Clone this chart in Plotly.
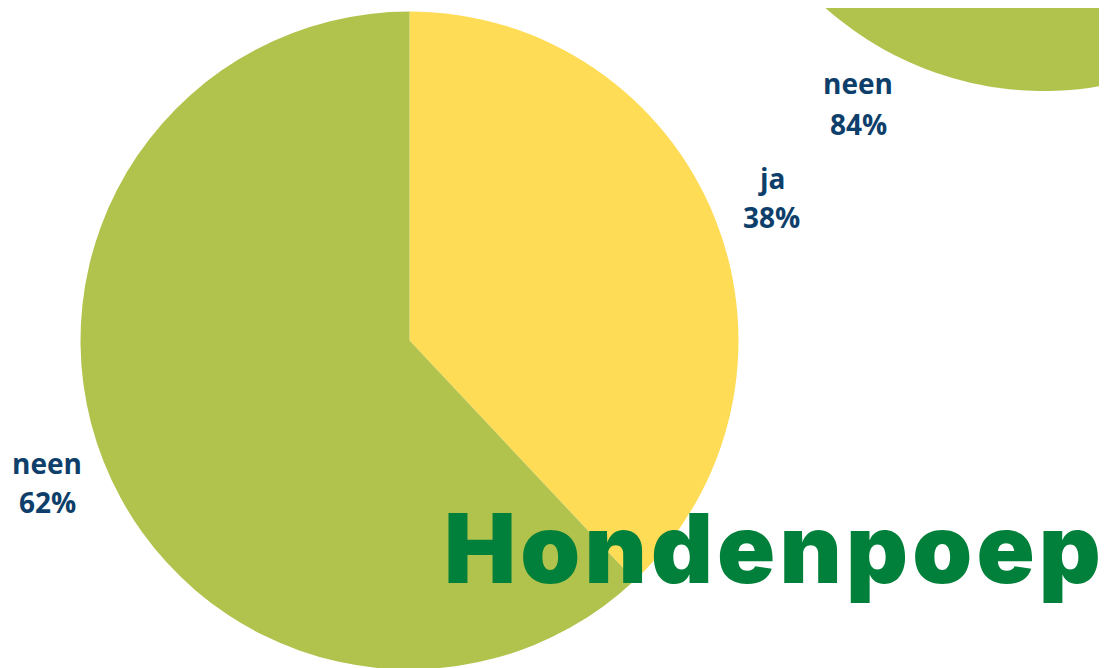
import numpy as np
import plotly.graph_objects as go

# ---- data ----
labels = ["ja", "neen"]
values_main = [38, 62]
values_second = [16, 84]
title_text = "Hondenpoep"

colors = {"ja": "#FEDC56", "neen": "#B1C34D"}
label_color = "#0E3F6B"
title_color = "#00803A"

W, H = 1107, 668
OX, OY = 8, 8  # page offset of the plot div (body margin)

fig = go.Figure()

# main pie (screen coordinates)
R = 329
cx, cy = 409.5, 340.5
fx, fy = cx - OX, cy - OY
fig.add_trace(go.Pie(
    labels=labels, values=values_main, sort=False, direction="clockwise", rotation=0,
    marker=dict(colors=[colors[l] for l in labels], line=dict(width=0)),
    textinfo="none", hoverinfo="label+percent", showlegend=False,
    domain=dict(x=[(fx - R) / W, (fx + R) / W],
                y=[max(0, (H - fy - R) / H), min(1, (H - fy + R) / H)]),
))

# second pie (partly outside the canvas) drawn as wedges on pixel axes
cx2, cy2 = 1044, -238
tot = sum(values_second)
start = 0.0
for lab, v in zip(labels, values_second):
    a0 = start / tot * 2 * np.pi
    a1 = (start + v) / tot * 2 * np.pi
    th = np.linspace(a0, a1, 300)
    xs = np.concatenate([[cx2], cx2 + R * np.sin(th), [cx2]])
    ys = np.concatenate([[cy2], cy2 - R * np.cos(th), [cy2]])
    fig.add_trace(go.Scatter(x=xs, y=ys, fill="toself", fillcolor=colors[lab],
                             mode="none", showlegend=False, hoverinfo="skip"))
    start += v

lab_font = dict(family="Open Sans", size=28, color=label_color, weight="bold")
label_pos = [
    # x, y of name line, y of percent line, name, value
    (771, 178, 217, labels[0], values_main[0]),
    (47, 463, 502, labels[1], values_main[1]),
    (858, 83, 124, labels[1], values_second[1]),
]
annotations = []
for x, y1, y2, name, val in label_pos:
    annotations.append(dict(x=x, y=y1, xref="x", yref="y", text=name, showarrow=False,
                            font=lab_font, xanchor="center", yanchor="middle"))
    annotations.append(dict(x=x, y=y2, xref="x", yref="y", text=f"{val}%", showarrow=False,
                            font=lab_font, xanchor="center", yanchor="middle"))
annotations.append(dict(x=442, y=548, xref="x", yref="y",
                        text=f'<span style="letter-spacing:4.2px">{title_text}</span>',
                        showarrow=False, xanchor="left", yanchor="middle",
                        font=dict(family="Inter", size=96, color=title_color, weight=900)))

fig.update_layout(
    width=W, height=H, margin=dict(l=0, r=0, t=0, b=0),
    paper_bgcolor="white", plot_bgcolor="rgba(0,0,0,0)",
    xaxis=dict(range=[OX, OX + W], visible=False, fixedrange=True),
    yaxis=dict(range=[OY + H, OY], visible=False, fixedrange=True),
    annotations=annotations,
)

fig.write_html("out.html")
